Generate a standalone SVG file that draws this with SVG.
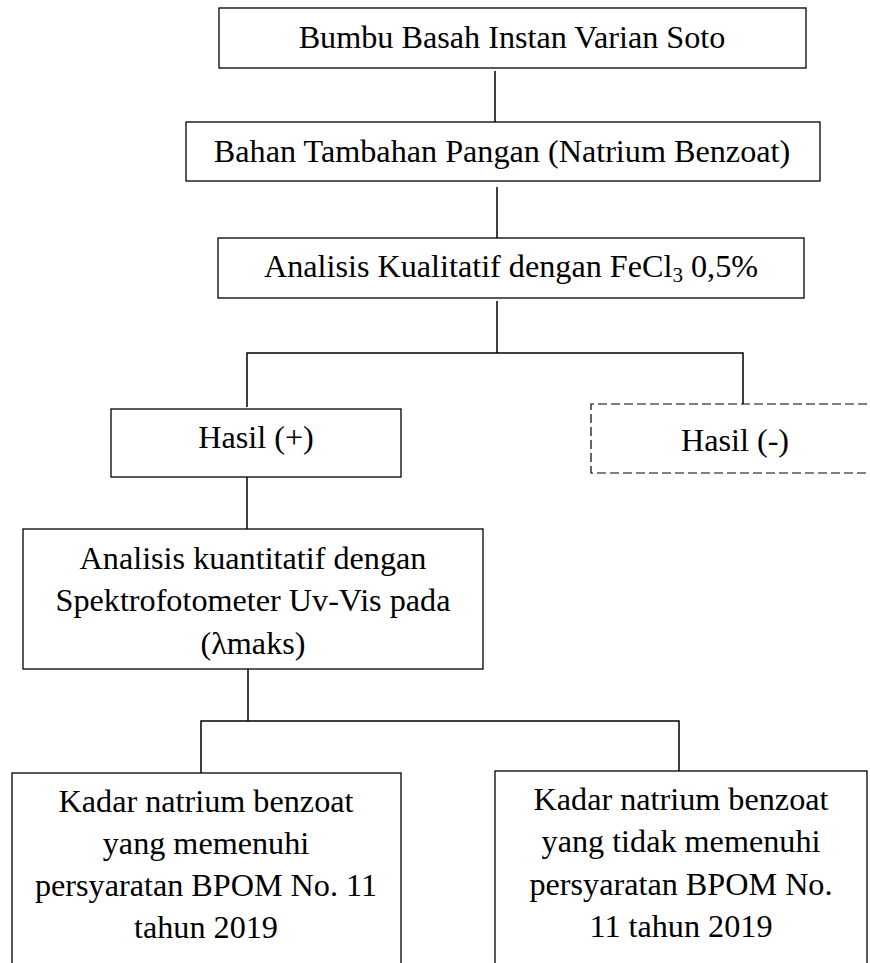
<svg xmlns="http://www.w3.org/2000/svg" width="870" height="963" viewBox="0 0 870 963">
<style>
.box{fill:#fff;stroke:#000;stroke-width:1.3}
.dash{fill:none;stroke:#000;stroke-width:1.2;stroke-dasharray:9,4}
.ln{fill:none;stroke:#000;stroke-width:1.5}
text{font-family:'Liberation Serif','Times New Roman',Tinos,'DejaVu Serif',serif;font-size:32.2px;fill:#000;text-anchor:middle}
</style>
<rect width="870" height="963" fill="#fff"/>
<g id="connectors">
<line class="ln" x1="495" y1="71" x2="495" y2="122"/>
<line class="ln" x1="497" y1="187" x2="497" y2="238"/>
<polyline class="ln" points="497,301 497,353"/>
<polyline class="ln" points="247,407 247,353 743,353 743,404"/>
<line class="ln" x1="247" y1="477" x2="247" y2="529"/>
<line class="ln" x1="248" y1="669" x2="248" y2="721"/>
<polyline class="ln" points="201,773 201,721 679,721 679,771"/>
</g>
<g id="n1"><rect class="box" x="219" y="8" width="587" height="60"/><text x="512" y="48">Bumbu Basah Instan Varian Soto</text></g>
<g id="n2"><rect class="box" x="186" y="122" width="634" height="59"/><text x="502" y="162">Bahan Tambahan Pangan (Natrium Benzoat)</text></g>
<g id="n3"><rect class="box" x="218" y="238" width="586" height="60"/><text x="511" y="277">Analisis Kualitatif dengan FeCl<tspan font-size="21" dy="5">3</tspan><tspan dy="-5"> 0,5%</tspan></text></g>
<g id="n4"><rect class="box" x="111" y="409" width="290" height="68"/><text x="256" y="448">Hasil (+)</text></g>
<g id="n5"><path class="dash" d="M880,404 H591 V473 H880"/><text x="735" y="451">Hasil (-)</text></g>
<g id="n6"><rect class="box" x="23" y="529" width="460" height="140"/>
<text x="253" y="569">Analisis kuantitatif dengan</text>
<text x="253" y="611">Spektrofotometer Uv-Vis pada</text>
<text x="253" y="654">(λmaks)</text></g>
<g id="n7"><rect class="box" x="12" y="773" width="389" height="200"/>
<text x="206" y="812">Kadar natrium benzoat</text>
<text x="206" y="854">yang memenuhi</text>
<text x="206" y="896">persyaratan BPOM No. 11</text>
<text x="206" y="938">tahun 2019</text></g>
<g id="n8"><rect class="box" x="495" y="771" width="372" height="202"/>
<text x="681" y="810">Kadar natrium benzoat</text>
<text x="681" y="852">yang tidak memenuhi</text>
<text x="681" y="895">persyaratan BPOM No.</text>
<text x="681" y="937">11 tahun 2019</text></g>
</svg>
